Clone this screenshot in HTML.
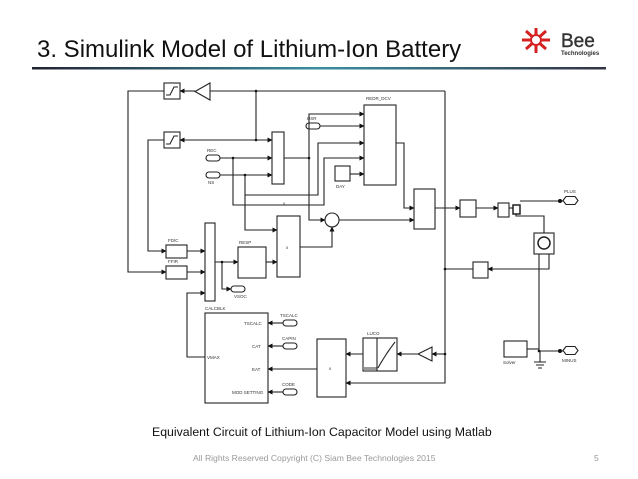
<!DOCTYPE html>
<html><head><meta charset="utf-8"><style>
html,body{margin:0;padding:0;background:#fff;width:638px;height:479px;overflow:hidden}
svg{display:block}
text{font-family:"Liberation Sans",sans-serif}
</style></head><body>
<svg width="638" height="479" viewBox="0 0 638 479" xmlns="http://www.w3.org/2000/svg">
<defs>
<linearGradient id="g" x1="0" x2="1"><stop offset="0" stop-color="#223"/><stop offset="0.5" stop-color="#3a8fa0"/><stop offset="1" stop-color="#334"/></linearGradient>
<marker id="a" markerWidth="5" markerHeight="5" refX="4.5" refY="2.5" orient="auto" markerUnits="userSpaceOnUse"><path d="M0,0L5,2.5L0,5z" fill="#111"/></marker>
</defs>
<text x="37" y="57" font-size="24" fill="#111">3. Simulink Model of Lithium-Ion Battery</text>
<rect x="32" y="67" width="574" height="2.5" fill="url(#g)"/>
<!-- logo -->
<g stroke="#d42020" stroke-width="3">
<line x1="522" y1="40" x2="550" y2="40"/><line x1="536" y1="28" x2="536" y2="53"/>
<line x1="526" y1="31" x2="546" y2="49"/><line x1="526" y1="49" x2="546" y2="31"/>
</g>
<circle cx="536" cy="40" r="5" fill="#fff" stroke="#d42020" stroke-width="2"/>
<text x="561" y="47" font-size="19" fill="#333" stroke="#333" stroke-width="0.4">Bee</text>
<text x="561" y="55" font-size="6" font-weight="bold" fill="#333">Technologies</text>

<g fill="none" stroke="#222" stroke-width="1.1">
<rect x="164" y="83" width="16" height="16"/>
<path d="M166,95 H170 L174,87 H178"/>
<path d="M210,83 L210,100 L195,91.5z"/>
<rect x="164" y="132" width="16" height="16"/>
<path d="M166,144 H170 L174,136 H178"/>
<rect x="272" y="132" width="12" height="52"/>
<rect x="364" y="105" width="32" height="80"/>
<rect x="414" y="189" width="21" height="40"/>
<circle cx="332" cy="220" r="7"/>
<rect x="277" y="216" width="23" height="61"/>
<rect x="238" y="247" width="28" height="31"/>
<rect x="205" y="223" width="10" height="78"/>
<rect x="166" y="245" width="21" height="13"/>
<rect x="166" y="266" width="21" height="13"/>
<rect x="205" y="313" width="63" height="90"/>
<rect x="317" y="339" width="29" height="58"/>
<rect x="363" y="338" width="34" height="33"/>
<rect x="364" y="367" width="13" height="3" fill="#999" stroke="none"/>
<line x1="377" y1="338" x2="377" y2="371"/>
<path d="M378,368 Q385,355 395,342"/>
<path d="M432,347 L432,361 L418,354z"/>
<rect x="335" y="166" width="15" height="15"/>
<rect x="206" y="155" width="14" height="6" rx="3"/>
<rect x="206" y="172" width="14" height="6" rx="3"/>
<rect x="306" y="123" width="14" height="6" rx="3"/>
<rect x="231" y="286" width="14" height="6" rx="3"/>
<rect x="283" y="320" width="14" height="6" rx="3"/>
<rect x="283" y="343" width="14" height="6" rx="3"/>
<rect x="283" y="389" width="14" height="6" rx="3"/>
<rect x="460" y="200" width="16" height="17"/>
<rect x="498" y="203" width="11" height="14"/>
<rect x="513" y="205" width="7" height="9" stroke-width="1.5"/>
<rect x="534" y="233" width="20" height="21"/>
<circle cx="544" cy="243" r="6" stroke-width="1.5"/>
<rect x="473" y="262" width="15" height="16"/>
<rect x="504" y="341" width="23" height="16"/>
<path d="M563,200.5 l3,-4 h9 l3,4 l-3,4 h-9z"/>
<path d="M563,350.5 l3,-4 h9 l3,4 l-3,4 h-9z"/>
<path d="M445,91 H210"/><path d="M195,91 H180" marker-end="url(#a)"/>
<path d="M164,91 H128 V272 H166" marker-end="url(#a)"/>
<path d="M445,91 V383 H346" marker-end="url(#a)"/>
<path d="M256,91 V140 H272" marker-end="url(#a)"/>
<path d="M256,140 H180" marker-end="url(#a)"/>
<path d="M164,140 H148 V251 H166" marker-end="url(#a)"/>
<path d="M220,158 H272" marker-end="url(#a)"/>
<path d="M220,175 H272" marker-end="url(#a)"/>
<path d="M233,158 V205 H324 V158 H364" marker-end="url(#a)"/>
<path d="M245,175 V195 H318 V143 H364" marker-end="url(#a)"/>
<path d="M245,195 V230 H277" marker-end="url(#a)"/>
<path d="M284,158 H309 V220 H325" marker-end="url(#a)"/>
<path d="M309,158 V114 H364" marker-end="url(#a)"/>
<path d="M320,126 H364" marker-end="url(#a)"/>
<path d="M350,174 H364" marker-end="url(#a)"/>
<path d="M396,143 H404 V208 H414" marker-end="url(#a)"/>
<path d="M339,220 H414" marker-end="url(#a)"/>
<path d="M300,247 H332 V227" marker-end="url(#a)"/>
<path d="M187,251 H205" marker-end="url(#a)"/>
<path d="M187,272 H205" marker-end="url(#a)"/>
<path d="M215,262 H238" marker-end="url(#a)"/>
<path d="M266,262 H277" marker-end="url(#a)"/>
<path d="M222,262 V289 H231" marker-end="url(#a)"/>
<path d="M205,357 H187 V293 H205" marker-end="url(#a)"/>
<path d="M283,323 H268" marker-end="url(#a)"/>
<path d="M283,346 H268" marker-end="url(#a)"/>
<path d="M317,369 H268" marker-end="url(#a)"/>
<path d="M283,392 H268" marker-end="url(#a)"/>
<path d="M445,354 H432" marker-end="url(#a)"/>
<path d="M418,354 H397" marker-end="url(#a)"/>
<path d="M363,354 H346" marker-end="url(#a)"/>
<path d="M435,208 H460" marker-end="url(#a)"/>
<path d="M476,208 H498" marker-end="url(#a)"/>
<path d="M509,208 H513"/>
<path d="M520,201 H563"/>
<path d="M516,214 V216 H544 V233"/>
<path d="M549,254 V269 H488" marker-end="url(#a)"/>
<path d="M473,269 H445"/>
<path d="M539,254 V351 H563"/>
<path d="M527,349 H539"/>
<path d="M540,351 V362 M534,362 H546 M536,365 H544 M538,368 H542"/>
</g>
<g fill="#111">
<circle cx="560" cy="201" r="2"/><circle cx="560" cy="351" r="2"/>
<circle cx="256" cy="91" r="1.3"/><circle cx="256" cy="140" r="1.3"/><circle cx="309" cy="158" r="1.3"/>
<circle cx="233" cy="158" r="1.3"/><circle cx="245" cy="175" r="1.3"/><circle cx="222" cy="262" r="1.3"/>
<circle cx="445" cy="269" r="1.3"/><circle cx="445" cy="354" r="1.3"/><circle cx="539" cy="351" r="1.3"/>
</g>
<g font-size="4.5" fill="#333">
<text x="366" y="100">REDR_DCV</text><text x="239" y="244">RESP</text>
<text x="205" y="310">CALCBLK</text><text x="367" y="335">LUCO</text>
<text x="168" y="242">FDIC</text><text x="168" y="263">FFIR</text>
<text x="207" y="152">REC</text><text x="208" y="184">NS</text>
<text x="307" y="120">DSR</text><text x="234" y="298">VSOC</text>
<text x="280" y="317">TSCALC</text><text x="282" y="340">CAPIN</text><text x="282" y="386">CODE</text>
<text x="244" y="325">TSCALC</text><text x="252" y="348">CAT</text><text x="252" y="371">EAT</text><text x="232" y="394">MOD SETTING</text>
<text x="207" y="359">VMAX</text><text x="336" y="188">DAY</text>
<text x="564" y="193">PLUS</text><text x="562" y="362">MINUS</text>
<text x="503" y="364">Solver</text>
<text x="283" y="205">x</text><text x="286" y="249">x</text><text x="329" y="370">x</text>
</g>
<text x="152" y="436" font-size="12.3" fill="#111">Equivalent Circuit of Lithium-Ion Capacitor Model using Matlab</text>
<text x="193" y="461" font-size="8.6" fill="#999">All Rights Reserved Copyright (C) Siam Bee Technologies 2015</text>
<text x="594" y="461" font-size="8.6" fill="#999">5</text>
</svg>
</body></html>
